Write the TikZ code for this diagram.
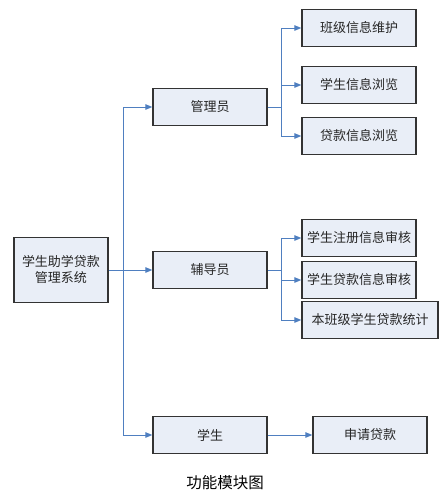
\documentclass[tikz,border=0pt]{standalone}
\usepackage{fontspec}
\setmainfont{Noto Sans CJK SC}
\usetikzlibrary{arrows.meta,positioning,calc}
\definecolor{frame}{HTML}{333333}
\definecolor{pale}{HTML}{E9EEF7}
\definecolor{link}{HTML}{4F7FC0}

\tikzset{
  box/.style={draw=frame,fill=pale,line width=1.3pt,minimum width=114pt,minimum height=37pt,inner sep=0pt,text=black!85,font=\fontsize{13}{16}\selectfont,align=center},
  wire/.style={link,line width=1pt},
  arr/.style={wire,-{Triangle[length=7pt,width=5.5pt]}}
}

\begin{document}
\begin{tikzpicture}[x=1pt,y=-1pt]
\useasboundingbox (0,0) rectangle (441,496);
% root and second level
\node[box,minimum width=94pt,minimum height=65pt] (sys) at (61,270) {学生助学贷款\\管理系统};
\node[box] (admin) at (210,107) {管理员};
\node[box] (tutor) at (210,270) {辅导员};
\node[box] (stu) at (210,435) {学生};
% leaves
\node[box] (cls) at (359,28) {班级信息维护};
\node[box] (sinfo) at (359,85) {学生信息浏览};
\node[box] (loan) at (359,136) {贷款信息浏览};
\node[box] (reg) at (359,238) {学生注册信息审核};
\node[box] (chk) at (359,280) {学生贷款信息审核};
\node[box,minimum width=136pt] (stat) at (370,320) {本班级学生贷款统计};
\node[box] (apply) at (370,435) {申请贷款};
% branch points
\coordinate (trunk) at (123,270);
\coordinate (ab) at (281,107);
\coordinate (tb) at (281,270);
% connectors
\draw[arr] (sys.east) -- (tutor.west);
\draw[arr] (trunk) |- (admin.west);
\draw[arr] (trunk) |- (stu.west);
\draw[wire] (admin.east) -- (ab);
\draw[arr] (ab) |- (cls.west);
\draw[arr] (ab) |- (sinfo.west);
\draw[arr] (ab) |- (loan.west);
\draw[wire] (tutor.east) -- (tb);
\draw[arr] (tb) |- (reg.west);
\draw[arr] (tb) |- (chk.west);
\draw[arr] (tb) |- (stat.west);
\draw[arr] (stu.east) -- (apply.west);
% caption
\node[font=\fontsize{15.5}{18}\selectfont] (cap) at (225,483) {功能模块图};
\end{tikzpicture}
\end{document}
